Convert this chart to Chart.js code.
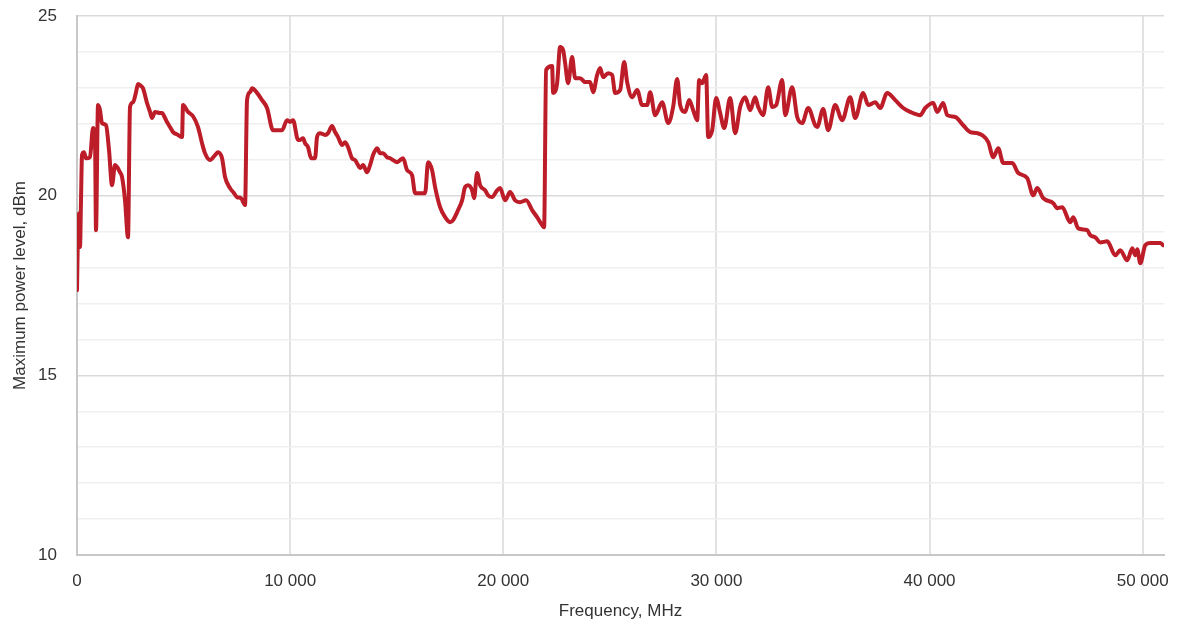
<!DOCTYPE html>
<html>
<head>
<meta charset="utf-8">
<script src="https://cdn.jsdelivr.net/npm/chart.js@4.4.1/dist/chart.umd.min.js"></script>
<style>
  html, body { margin: 0; padding: 0; background: #fff; }
  #wrap { width: 1178px; height: 630px; }
</style>
</head>
<body>
<div id="wrap"><canvas id="powerChart" width="1178" height="630"></canvas></div>
<script>
// frequency, MHz
const freq = [
  0, 47, 94, 141, 188, 235, 329, 422, 610, 751, 845, 892, 986, 1079, 1173, 1361, 1502, 1643, 1783, 2018,
  2112, 2253, 2393, 2487, 2628, 2769, 2863, 3004, 3097, 3285, 3426, 3520, 3661, 3895, 3989, 4130, 4224, 4364, 4505, 4740,
  4928, 4975, 5209, 5444, 5679, 5866, 6007, 6242, 6476, 6617, 6805, 6946, 7180, 7368, 7509, 7697, 7884, 7978, 8119, 8213,
  8447, 8682, 8917, 9198, 9433, 9621, 9856, 9996, 10137, 10372, 10465, 10606, 10700, 10841, 10982, 11169, 11263, 11404, 11639, 11779,
  11967, 12108, 12249, 12436, 12577, 12718, 12906, 13047, 13187, 13281, 13422, 13610, 13750, 13891, 14079, 14220, 14361, 14548, 14689, 14830,
  15018, 15158, 15299, 15487, 15722, 15862, 16097, 16332, 16472, 16660, 16801, 17036, 17270, 17505, 17646, 17880, 18068, 18209, 18350, 18537,
  18631, 18772, 18913, 19147, 19288, 19476, 19711, 19851, 20086, 20321, 20555, 20790, 21072, 21353, 21588, 21822, 21916, 22010, 22292, 22339,
  22526, 22667, 22808, 22902, 23043, 23230, 23371, 23606, 23840, 24075, 24216, 24404, 24544, 24685, 24920, 25107, 25248, 25483, 25671, 25812,
  26046, 26281, 26515, 26750, 26891, 27126, 27454, 27736, 27970, 28158, 28299, 28533, 28721, 28909, 29097, 29190, 29331, 29519, 29613, 29801,
  29988, 30176, 30364, 30646, 30880, 31115, 31349, 31584, 31819, 31960, 32194, 32429, 32616, 32804, 33086, 33226, 33555, 33790, 34024, 34306,
  34634, 34728, 35010, 35244, 35573, 35901, 36277, 36512, 36887, 37122, 37450, 37685, 38013, 38389, 38764, 39092, 39562, 39797, 40172, 40360,
  40641, 40829, 41205, 41580, 41908, 42237, 42753, 42988, 43222, 43457, 43880, 44161, 44584, 44865, 45053, 45334, 45804, 45991, 46226, 46601,
  46742, 46977, 47399, 47540, 47775, 48009, 48338, 48713, 48948, 49277, 49511, 49652, 49746, 49887, 50121, 50356, 50825, 50966
];

// maximum power level, dBm
const level = [
  17.37, 19.04, 19.51, 18.57, 19.87, 21.13, 21.21, 21.04, 21.07, 21.88, 21.55, 19.04, 22.52, 22.38, 22.02, 21.96, 21.27, 20.29, 20.85, 20.65,
  20.52, 19.87, 18.84, 22.47, 22.60, 22.88, 23.11, 23.05, 22.99, 22.58, 22.33, 22.16, 22.33, 22.30, 22.30, 22.16, 22.05, 21.91, 21.77, 21.69,
  21.63, 22.52, 22.33, 22.21, 21.91, 21.46, 21.18, 20.99, 21.13, 21.21, 21.04, 20.52, 20.21, 20.07, 19.96, 19.93, 19.74, 22.66, 22.88, 22.99,
  22.86, 22.66, 22.44, 21.82, 21.82, 21.82, 22.10, 22.05, 22.10, 21.55, 21.55, 21.60, 21.46, 21.35, 21.04, 21.04, 21.63, 21.74, 21.69, 21.74,
  21.94, 21.77, 21.63, 21.41, 21.49, 21.35, 21.04, 20.99, 20.85, 20.77, 20.85, 20.65, 20.85, 21.13, 21.32, 21.18, 21.18, 21.07, 21.04, 20.99,
  20.93, 20.99, 21.04, 20.71, 20.57, 20.07, 20.07, 20.07, 20.93, 20.71, 20.24, 19.68, 19.40, 19.26, 19.32, 19.60, 19.87, 20.24, 20.29, 20.15,
  19.93, 20.63, 20.29, 20.15, 20.01, 19.96, 20.15, 20.21, 19.87, 20.10, 19.87, 19.82, 19.87, 19.60, 19.40, 19.18, 19.12, 23.50, 23.61, 22.86,
  23.13, 24.14, 24.05, 23.69, 23.13, 23.86, 23.27, 23.27, 23.16, 23.16, 22.88, 23.36, 23.55, 23.30, 23.41, 23.36, 22.86, 22.94, 23.72, 23.16,
  22.74, 22.94, 22.52, 22.52, 22.88, 22.24, 22.60, 22.02, 22.47, 23.25, 22.52, 22.33, 22.66, 22.38, 22.10, 23.22, 23.13, 23.36, 21.63, 21.82,
  22.72, 22.30, 21.88, 22.72, 21.74, 22.47, 22.74, 22.38, 22.74, 22.47, 22.24, 23.02, 22.47, 22.52, 23.22, 22.24, 23.02, 22.19, 22.02, 22.44,
  21.96, 21.91, 22.41, 21.82, 22.52, 22.10, 22.74, 22.16, 22.86, 22.52, 22.60, 22.44, 22.86, 22.66, 22.44, 22.33, 22.24, 22.44, 22.58, 22.33,
  22.58, 22.24, 22.19, 21.96, 21.77, 21.74, 21.49, 21.07, 21.32, 20.91, 20.91, 20.63, 20.49, 20.01, 20.21, 19.93, 19.79, 19.65, 19.68, 19.26,
  19.40, 19.09, 19.04, 18.90, 18.84, 18.70, 18.73, 18.34, 18.48, 18.20, 18.54, 18.34, 18.51, 18.12, 18.62, 18.68, 18.68, 18.62
];

const xTicks = [0, 10000, 20000, 30000, 40000, 50000];
const yLabels = [10, 15, 20, 25];

const points = freq.map((f, i) => ({ x: f, y: level[i] }));
const fontFamily = "'Liberation Sans', Arial, sans-serif";

new Chart(document.getElementById("powerChart"), {
  type: "line",
  data: {
    datasets: [{
      data: points,
      borderColor: "#BC1D28",
      borderWidth: 4,
      pointRadius: 0,
      cubicInterpolationMode: "monotone",
      borderJoinStyle: "round",
      borderCapStyle: "round",
      fill: false
    }]
  },
  options: {
    responsive: false,
    animation: false,
    layout: { padding: { top: 16, right: 14, left: 0, bottom: 0 } },
    plugins: { legend: { display: false }, tooltip: { enabled: false } },
    scales: {
      x: {
        type: "linear",
        min: 0,
        max: 51000,
        afterFit: s => { s.height = 75; s.paddingLeft = 0; s.paddingRight = 0; },
        afterBuildTicks: s => { s.ticks = xTicks.map(v => ({ value: v })); },
        border: { color: "#c8c8c8", width: 2 },
        grid: { color: "#e2e2e2", lineWidth: 2, drawTicks: false },
        ticks: {
          padding: 16,
          color: "#333",
          font: { family: fontFamily, size: 17 },
          maxRotation: 0,
          callback: v => String(v).replace(/\B(?=(\d{3})+(?!\d))/g, " ")
        },
        title: {
          display: true,
          text: "Frequency, MHz",
          color: "#333",
          font: { family: fontFamily, size: 17 },
          padding: { top: 0, bottom: 8 }
        }
      },
      y: {
        min: 10,
        max: 25,
        afterFit: s => { s.width = 77; s.paddingTop = 0; s.paddingBottom = 0; },
        border: { color: "#c8c8c8", width: 2 },
        grid: {
          drawTicks: false,
          lineWidth: 1.5,
          color: c => (c.tick && yLabels.includes(c.tick.value)) ? "#d9d9d9" : "#efefef"
        },
        ticks: {
          stepSize: 1,
          padding: 20,
          color: "#333",
          font: { family: fontFamily, size: 17 },
          callback: v => yLabels.includes(v) ? String(v) : ""
        },
        title: {
          display: true,
          text: "Maximum power level, dBm",
          color: "#333",
          font: { family: fontFamily, size: 17 },
          padding: { top: 10, bottom: 0 }
        }
      }
    }
  }
});
</script>
</body>
</html>
